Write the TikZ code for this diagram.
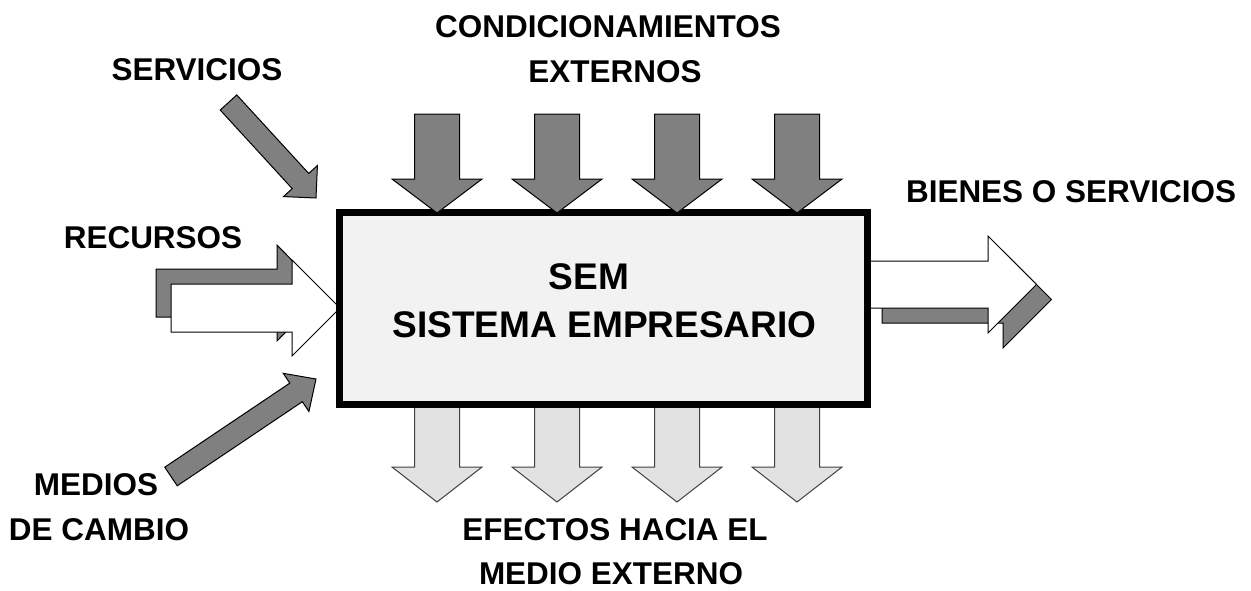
\documentclass[tikz,border=0pt]{standalone}
\usepackage{fontspec}
\setmainfont{Liberation Sans}
\usetikzlibrary{calc}
\definecolor{arrgray}{HTML}{808080}
\definecolor{boxfill}{HTML}{F2F2F2}
\definecolor{lightfill}{HTML}{E2E2E2}
% #1 tail, #2 tip, #3 shaft half width, #4 head half width, #5 head length, #6 style
\newcommand{\myarrow}[6]{%
  \path ($(#2)!#5!(#1)$) coordinate (hb-#1);
  \draw[#6] ($(#1)!#3!90:(#2)$) -- ($(hb-#1)!#3!-90:(#1)$) -- ($(hb-#1)!#4!-90:(#1)$)
    -- (#2) -- ($(hb-#1)!#4!90:(#1)$) -- ($(hb-#1)!#3!90:(#1)$) -- ($(#1)!#3!-90:(#2)$) -- cycle;
}
\begin{document}
\begin{tikzpicture}[x=0.75pt,y=-0.75pt,
  lbl/.style={font=\fontsize{23.6}{28}\selectfont\bfseries, anchor=base, inner sep=0pt},
  big/.style={font=\fontsize{27.8}{33}\selectfont\bfseries, anchor=base, inner sep=0pt},
  darkarrow/.style={draw=black, line width=0.75pt, fill=arrgray},
  whitearrow/.style={draw=black, line width=0.75pt, fill=white},
  lightarrow/.style={draw=black!75, line width=0.75pt, fill=lightfill},
  sembox/.style={draw=black, line width=5.6pt, fill=boxfill, minimum width=396pt, minimum height=144pt, inner sep=0pt}]
\useasboundingbox[fill=white] (0,0) rectangle (1251,590);

% RECURSOS shadowed arrow
\draw[darkarrow] (156,269) -- (277,269) -- (277,245) -- (324,293) -- (277,341) -- (277,317) -- (156,317) -- cycle;
\draw[whitearrow] (171,284) -- (292,284) -- (292,260) -- (340,308) -- (292,356) -- (292,332) -- (171,332) -- cycle;

% output shadowed arrow
\draw[darkarrow] (882,276) -- (1003,276) -- (1003,251) -- (1051.5,299.5) -- (1003,348) -- (1003,323) -- (882,323) -- cycle;
\draw[whitearrow] (867,261) -- (988,261) -- (988,236) -- (1036.5,284.5) -- (988,333) -- (988,308) -- (867,308) -- cycle;

% effects arrows (bottom)
\foreach \c in {437,557,677,797} {
  \draw[lightarrow] (\c-22.5,404) -- (\c+22.5,404) -- (\c+22.5,467) -- (\c+45,467) -- (\c,502) -- (\c-45,467) -- (\c-22.5,467) -- cycle;
}

% main box
\node[sembox] (sem) at (603.5,308.5) {};
\node[big] (sem1) at (589,289) {SEM};
\node[big] (sem2) at (604.5,337) {SISTEMA EMPRESARIO};

% conditioning arrows (top)
\foreach \c in {437,557,677,797} {
  \draw[darkarrow] (\c-22.5,114) -- (\c+22.5,114) -- (\c+22.5,179) -- (\c+45,179) -- (\c,213) -- (\c-45,179) -- (\c-22.5,179) -- cycle;
}

% diagonal arrows
\coordinate (servT) at (228.5,102.5);
\coordinate (servP) at (316,198);
\myarrow{servT}{servP}{8.4pt}{17.25pt}{17.25pt}{darkarrow}
\coordinate (medT) at (171,476.5);
\coordinate (medP) at (316,379);
\myarrow{medT}{medP}{8.4pt}{17.25pt}{18pt}{darkarrow}

% labels
\node[lbl] (cond1) at (608,37) {CONDICIONAMIENTOS};
\node[lbl] (cond2) at (615,82) {EXTERNOS};
\node[lbl] (serv) at (197,80) {SERVICIOS};
\node[lbl] (rec) at (153,248) {RECURSOS};
\node[lbl] (med1) at (96,495) {MEDIOS};
\node[lbl] (med2) at (99,540) {DE CAMBIO};
\node[lbl] (ef1) at (615,540) {EFECTOS HACIA EL};
\node[lbl] (ef2) at (611,584) {MEDIO EXTERNO};
\node[lbl] (bienes) at (1071,202) {BIENES O SERVICIOS};
\end{tikzpicture}
\end{document}
